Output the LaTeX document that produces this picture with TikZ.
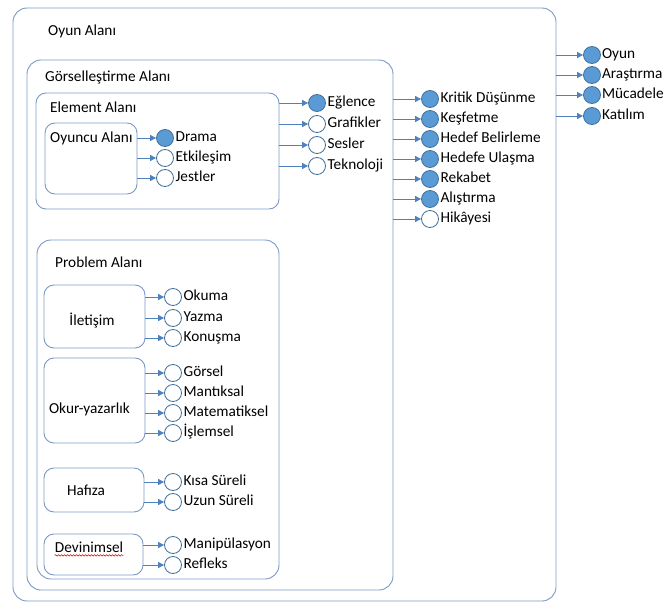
\documentclass[tikz,border=0pt]{standalone}
\usepackage{fontspec}
\setmainfont{Carlito}
\usetikzlibrary{arrows.meta,decorations.pathmorphing}

\definecolor{edgeblue}{HTML}{4F81BD}
\definecolor{boxline}{HTML}{7A98C6}
\definecolor{dotfill}{HTML}{5B9BD5}
\definecolor{dotline}{HTML}{41719C}
\newcommand\dgfont{\fontsize{15.3}{18}\selectfont}

\tikzset{
  area/.style={draw=boxline, line width=0.9pt, rounded corners=14pt, inner sep=0pt},
  subarea/.style={area, rounded corners=10pt},
  ttl/.style={anchor=west, inner sep=0pt, font=\dgfont, text height=0.64em, text depth=0pt},
  mid/.style={inner sep=0pt, font=\dgfont, text height=0.64em, text depth=0pt},
  dot/.style={circle, draw=dotline, line width=0.8pt, fill=white, minimum size=17pt, inner sep=0pt},
  full/.style={dot, fill=dotfill},
  lbl/.style={anchor=west, inner sep=1.5pt, font=\dgfont, text height=0.64em, text depth=0pt},
  link/.style={draw=edgeblue, line width=0.9pt, -{Triangle[length=6pt,width=6pt]}}
}

\begin{document}
\begin{tikzpicture}[x=1pt, y=-1pt]
\useasboundingbox (0,0) rectangle (665,605);
\clip (0,0) rectangle (665,605);

% nested areas
\node[area, minimum width=543pt, minimum height=593pt] (oyun) at (284.5,304.5) {};
\node[ttl] (oyun-t) at (48,32) {Oyun Alanı};

\node[area, minimum width=366pt, minimum height=530pt] (gors) at (210,325) {};
\node[ttl] (gors-t) at (45,78) {Görselleştirme Alanı};

\node[subarea, minimum width=243pt, minimum height=116pt] (elem) at (157.5,151) {};
\node[ttl] (elem-t) at (50,109) {Element Alanı};

\node[subarea, minimum width=92pt, minimum height=71pt] (oyuncu) at (91,158.5) {};
\node[ttl] (oyuncu-t) at (50,139) {Oyuncu Alanı};

\node[area, minimum width=242pt, minimum height=339pt] (prob) at (158,409.5) {};
\node[ttl] (prob-t) at (55,264) {Problem Alanı};

\node[subarea, minimum width=101pt, minimum height=63pt] (ilet) at (94.5,316.5) {};
\node[mid] (ilet-t) at (92,322) {İletişim};

\node[subarea, minimum width=101pt, minimum height=85pt] (okur) at (94.5,400.5) {};
\node[mid] (okur-t) at (89.5,410) {Okur-yazarlık};

\node[subarea, minimum width=100pt, minimum height=44pt] (hafiza) at (94,490) {};
\node[mid] (hafiza-t) at (86,492) {Hafıza};

\node[subarea, minimum width=99pt, minimum height=41pt] (devin) at (93.5,554.5) {};
\node[mid] (devin-t) at (89,549) {Devinimsel};
\draw[red!85!black, line width=0.6pt, decorate,
      decoration={snake, amplitude=0.7pt, segment length=3pt}]
  ([yshift=-3pt]devin-t.south west) -- ([yshift=-3pt]devin-t.south east);

% branches: source area, circle column, rows
\foreach \id/\yy/\txt/\sty in {dr/138/Drama/full, et/158/Etkileşim/dot, je/178/Jestler/dot} {
  \node[\sty] (\id) at (165,\yy) {};
  \node[lbl] (\id-t) at (\id.east) {\txt};
  \draw[link] (oyuncu.east |- \id) -- (\id);
}

\foreach \id/\yy/\txt/\sty in {eg/103/Eğlence/full, gr/124/Grafikler/dot, se/145/Sesler/dot, te/166/Teknoloji/dot} {
  \node[\sty] (\id) at (317,\yy) {};
  \node[lbl] (\id-t) at (\id.east) {\txt};
  \draw[link] (elem.east |- \id) -- (\id);
}

\foreach \id/\yy/\txt/\sty in {kd/99/Kritik Düşünme/full, ke/119/Keşfetme/full,
    hb/139/Hedef Belirleme/full, hu/159/Hedefe Ulaşma/full, re/179/Rekabet/full,
    al/199/Alıştırma/full, hi/219/Hikâyesi/dot} {
  \node[\sty] (\id) at (430,\yy) {};
  \node[lbl] (\id-t) at (\id.east) {\txt};
  \draw[link] (gors.east |- \id) -- (\id);
}

\foreach \id/\yy/\txt/\sty in {oy/55/Oyun/full, ar/75/Araştırma/full,
    mu/95/Mücadele/full, ka/116/Katılım/full} {
  \node[\sty] (\id) at (592,\yy) {};
  \node[lbl, inner sep=1pt] (\id-t) at (\id.east) {\txt};
  \draw[link] (oyun.east |- \id) -- (\id);
}

\foreach \id/\yy/\txt in {ok/297/Okuma, ya/318/Yazma, ko/338/Konuşma} {
  \node[dot] (\id) at (173,\yy) {};
  \node[lbl] (\id-t) at (\id.east) {\txt};
  \draw[link] (ilet.east |- \id) -- (\id);
}

\foreach \id/\yy/\txt in {go/373/Görsel, ma/393/Mantıksal, mt/413/Matematiksel, is/433/İşlemsel} {
  \node[dot] (\id) at (173,\yy) {};
  \node[lbl] (\id-t) at (\id.east) {\txt};
  \draw[link] (okur.east |- \id) -- (\id);
}

\foreach \id/\yy/\txt in {ks/482/Kısa Süreli, us/502/Uzun Süreli} {
  \node[dot] (\id) at (173,\yy) {};
  \node[lbl] (\id-t) at (\id.east) {\txt};
  \draw[link] (hafiza.east |- \id) -- (\id);
}

\foreach \id/\yy/\txt in {mn/545/Manipülasyon, rf/565/Refleks} {
  \node[dot] (\id) at (173,\yy) {};
  \node[lbl] (\id-t) at (\id.east) {\txt};
  \draw[link] (devin.east |- \id) -- (\id);
}
\end{tikzpicture}
\end{document}
